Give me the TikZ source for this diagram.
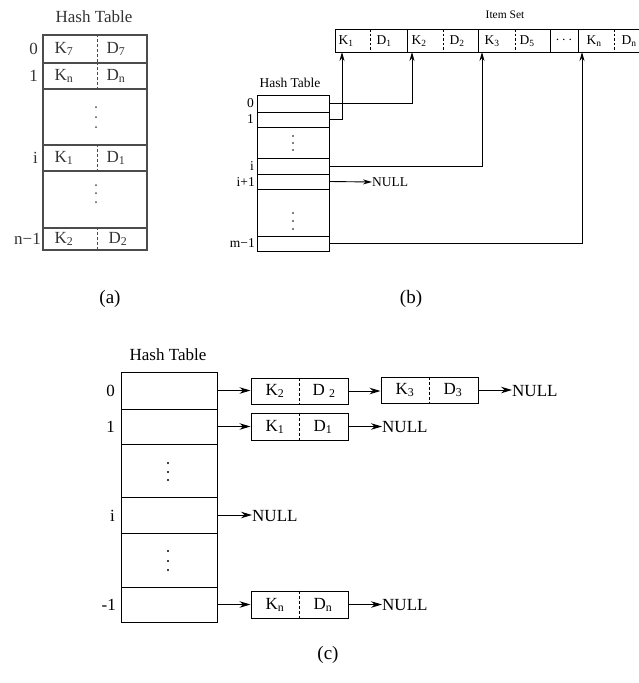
\documentclass[tikz,border=0pt]{standalone}
\usepackage{fontspec}
\setmainfont{Liberation Serif}
\usetikzlibrary{arrows.meta}
\begin{document}
\begin{tikzpicture}[x=1pt,y=-1pt,
  rowA/.style={draw=black!70,line width=1.3pt,minimum width=104pt,inner sep=0},
  rowB/.style={draw,line width=0.9pt,minimum width=72pt,inner sep=0},
  rowC/.style={draw,line width=1pt,minimum width=96pt,inner sep=0},
  kdbox/.style={draw,line width=1pt,minimum width=97pt,minimum height=26pt,inner sep=0},
  divA/.style={dashed,draw=black!70,line width=1pt,dash pattern=on 3pt off 2pt},
  divB/.style={dashed,line width=0.7pt,dash pattern=on 2.5pt off 2pt},
  divC/.style={dashed,line width=0.9pt,dash pattern=on 3pt off 2pt},
  txtA/.style={font=\fontsize{17}{20}\selectfont,text=black!80,inner sep=0},
  txtB/.style={font=\fontsize{13.5}{16}\selectfont,inner sep=0},
  txtC/.style={font=\fontsize{17}{20}\selectfont,inner sep=0},
  arrB/.style={line width=0.9pt,-{Stealth[length=9pt,width=5pt]}},
  arrC/.style={line width=1pt,-{Stealth[length=11pt,width=6.5pt]}}
]
\useasboundingbox (0,0) rectangle (639,683);

% ---------------- panel (a) ----------------
\node[txtA] (ahead) at (94,17) {Hash Table};
\node[rowA,minimum height=28pt] (a0) at (95,49) {};
\node[rowA,minimum height=26pt] (a1) at (95,76) {};
\node[rowA,minimum height=56pt] (ad1) at (95,117) {};
\node[rowA,minimum height=26pt] (ai) at (95,158) {};
\node[rowA,minimum height=57pt] (ad2) at (95,199.5) {};
\node[rowA,minimum height=22pt] (an) at (95,239) {};
\foreach \r in {a0,a1,ai,an}{\draw[divA] ([xshift=2pt]\r.north) -- ([xshift=2pt]\r.south);}
\foreach \y in {107,117,127,185,193,202}{\fill[black!70] (96,\y) circle (1pt);}
\node[txtA] at (64,49) {K\textsubscript{7}};
\node[txtA] at (116,49) {D\textsubscript{7}};
\node[txtA] at (64,76) {K\textsubscript{n}};
\node[txtA] at (116,76) {D\textsubscript{n}};
\node[txtA] at (64,158) {K\textsubscript{1}};
\node[txtA] at (116,158) {D\textsubscript{1}};
\node[txtA] at (64,239) {K\textsubscript{2}};
\node[txtA] at (118,239) {D\textsubscript{2}};
\node[txtA,anchor=east] at (38,49) {0};
\node[txtA,anchor=east] at (38,76) {1};
\node[txtA,anchor=east] at (38,158) {i};
\node[txtA,anchor=east] at (41,239) {n−1};
\node[txtC,font=\fontsize{19}{22}\selectfont] (la) at (110,299) {(a)};

% ---------------- panel (b) ----------------
\node[txtB,font=\fontsize{11.5}{13}\selectfont] (iset) at (505,15) {Item Set};
\draw[line width=0.9pt] (645,29) -- (335,29) -- (335,52) -- (645,52);
\foreach \x in {407,478,550,578}{\draw[line width=0.9pt] (\x,29) -- (\x,52);}
\foreach \x in {370,443,515,614}{\draw[divB] (\x,29) -- (\x,52);}
\node[txtB] at (346,41) {K\textsubscript{1}};
\node[txtB] at (384,41) {D\textsubscript{1}};
\node[txtB] at (419,41) {K\textsubscript{2}};
\node[txtB] at (457,41) {D\textsubscript{2}};
\node[txtB] at (492,41) {K\textsubscript{3}};
\node[txtB] at (527,41) {D\textsubscript{5}};
\node[txtB] at (564,40) {$\cdots$};
\node[txtB] at (594,41) {K\textsubscript{n}};
\node[txtB] at (629,41) {D\textsubscript{n}};
\coordinate (t1) at (342,52);
\coordinate (t2) at (412,52);
\coordinate (t3) at (482,52);
\coordinate (tn) at (582,52);

\node[txtB] (bhead) at (290,83) {Hash Table};
\node[rowB,minimum height=17pt] (b0) at (293,103.5) {};
\node[rowB,minimum height=15pt] (b1) at (293,119.5) {};
\node[rowB,minimum height=31pt] (bd1) at (293,142.5) {};
\node[rowB,minimum height=16pt] (bi) at (293,166) {};
\node[rowB,minimum height=15pt] (bi1) at (293,181.5) {};
\node[rowB,minimum height=47pt] (bd2) at (293,212.5) {};
\node[rowB,minimum height=15pt] (bm) at (293,243.5) {};
\foreach \y in {136,143,150,213,221,229}{\fill (293,\y) circle (0.8pt);}
\node[txtB,anchor=east] at (254,103) {0};
\node[txtB,anchor=east] at (254,119) {1};
\node[txtB,anchor=east] at (254,166) {i};
\node[txtB,anchor=east] at (255,182) {i+1};
\node[txtB,anchor=east] at (255,243) {m−1};
\draw[arrB] (b1.east) -| (t1);
\draw[arrB] (b0.east) -| (t2);
\draw[arrB] (bi.east) -| (t3);
\draw[arrB] (bm.east) -| (tn);
\node[txtB,anchor=west] (nb) at (372,182) {NULL};
\draw[arrB] (bi1.east) -- (nb.west);
\node[txtC,font=\fontsize{19}{22}\selectfont] (lb) at (411,299) {(b)};

% ---------------- panel (c) ----------------
\node[txtC] (chead) at (168,355) {Hash Table};
\node[rowC,minimum height=37pt] (c0) at (169,390.5) {};
\node[rowC,minimum height=35pt] (c1) at (169,426.5) {};
\node[rowC,minimum height=53pt] (cd1) at (169,470.5) {};
\node[rowC,minimum height=36pt] (ci) at (169,515) {};
\node[rowC,minimum height=54pt] (cd2) at (169,560) {};
\node[rowC,minimum height=35pt] (cm) at (169,604.5) {};
\foreach \y in {463,472,480,551,561,570}{\fill (168,\y) circle (1.1pt);}
\node[txtC,anchor=east] at (115,391) {0};
\node[txtC,anchor=east] at (115,427) {1};
\node[txtC,anchor=east] at (115,516) {i};
\node[txtC,anchor=east] at (116,605) {-1};

\node[kdbox] (B2) at (299.5,391) {};
\node[kdbox,minimum height=27pt] (B1) at (299.5,426.5) {};
\node[kdbox] (B3) at (429.5,390) {};
\node[kdbox,minimum height=27pt] (Bn) at (299.5,604.5) {};
\foreach \b in {B1,B2,B3,Bn}{\draw[divC] (\b.north) -- (\b.south);}
\node[txtC] at (275,391) {K\textsubscript{2}};
\node[txtC] at (324,391) {D \textsubscript{2}};
\node[txtC] at (275,427) {K\textsubscript{1}};
\node[txtC] at (323,427) {D\textsubscript{1}};
\node[txtC] at (405,390) {K\textsubscript{3}};
\node[txtC] at (453,390) {D\textsubscript{3}};
\node[txtC] at (275,605) {K\textsubscript{n}};
\node[txtC] at (323,605) {D\textsubscript{n}};

\node[txtC,anchor=west] (n3) at (512,391) {NULL};
\node[txtC,anchor=west] (n1) at (382,427) {NULL};
\node[txtC,anchor=west] (ni) at (252,516) {NULL};
\node[txtC,anchor=west] (nn) at (382,605) {NULL};

\draw[arrC] (c0.east) -- (c0.east -| B2.west);
\draw[arrC] (c1.east) -- (c1.east -| B1.west);
\draw[arrC] (cm.east) -- (cm.east -| Bn.west);
\draw[arrC] (ci.east) -- (ci.east -| ni.west);
\draw[arrC] (B2.east) -- (B2.east -| B3.west);
\draw[arrC] (B3.east) -- (B3.east -| n3.west);
\draw[arrC] (B1.east) -- (B1.east -| n1.west);
\draw[arrC] (Bn.east) -- (Bn.east -| nn.west);
\node[txtC,font=\fontsize{19}{22}\selectfont] (lc) at (328,655) {(c)};
\end{tikzpicture}
\end{document}
